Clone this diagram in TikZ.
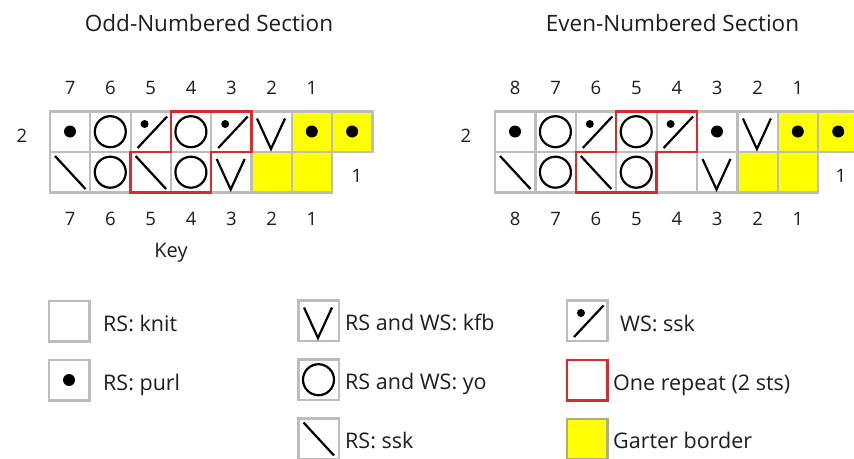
\documentclass[tikz,border=0pt]{standalone}
\usepackage{fontspec}
\setmainfont{Open Sans}
\definecolor{gridgray}{HTML}{BDBDBD}
\definecolor{repred}{HTML}{D92B2B}
\definecolor{garter}{HTML}{FFFF00}
\definecolor{txt}{HTML}{1E1E1E}
\begin{document}
\begin{tikzpicture}[x=1pt,y=-1pt,
  gridcell/.style={draw=gridgray,line width=2.2pt},
  yellowcell/.style={fill=garter},
  repeatline/.style={draw=repred,line width=2.3pt,line join=miter},
  sym/.style={line width=2.2pt,black},
  title/.style={anchor=base,font=\fontsize{22.5}{26}\selectfont,text=txt},
  num/.style={anchor=base,font=\fontsize{18.5}{22}\selectfont,text=txt},
  keytext/.style={anchor=base west,font=\fontsize{21.5}{25}\selectfont,text=txt,inner sep=0pt},
  purlpic/.pic={\fill[black] (20,20) circle[radius=6];},
  yopic/.pic={\draw[sym] (20,20.2) circle[radius=15.5];},
  rssskpic/.pic={\draw[sym] (5,4) -- (35.5,37);},
  kfbpic/.pic={\draw[sym,line join=miter] (5.5,7) -- (19.5,37.5) -- (33.5,7);},
  wssskpic/.pic={\fill[black] (14,12.5) circle[radius=4]; \draw[sym] (7,36.5) -- (36.5,5);},
]
\useasboundingbox (0,0) rectangle (854,458);
\clip (0,0) rectangle (854,458);
\fill[white] (0,0) rectangle (854,458);

% ---------- titles ----------
\node[title] (t1) at (209,31) {Odd-Numbered Section};
\node[title] (t2) at (672.5,31) {Even-Numbered Section};

% ---------- left chart ----------
\def\wL{40.3}
\foreach \i in {6,7} \fill[yellowcell] ({50+\i*\wL},111.5) rectangle +(\wL,40.5);
\foreach \i in {5,6} \fill[yellowcell] ({50+\i*\wL},152) rectangle +(\wL,40.5);
\foreach \i in {0,...,7} \draw[gridcell] ({50+\i*\wL},111.5) rectangle +(\wL,40.5);
\foreach \i in {0,...,6} \draw[gridcell] ({50+\i*\wL},152) rectangle +(\wL,40.5);
% row 2 symbols
\pic at (50,111.5) {purlpic};
\pic at (90.3,111.5) {yopic};
\pic at (130.6,111.5) {wssskpic};
\pic at (170.9,111.5) {yopic};
\pic at (211.2,111.5) {wssskpic};
\pic at (251.5,111.5) {kfbpic};
\pic at (291.8,111.5) {purlpic};
\pic at (332.1,111.5) {purlpic};
% row 1 symbols
\pic at (50,152) {rssskpic};
\pic at (90.3,152) {yopic};
\pic at (130.6,152) {rssskpic};
\pic at (170.9,152) {yopic};
\pic at (211.2,152) {kfbpic};
% repeat outline
\draw[repeatline] (170.9,111.5) -- (251.5,111.5) -- (251.5,152) -- (211.2,152) -- (211.2,192.5) -- (130.6,192.5) -- (130.6,152) -- (170.9,152) -- cycle;
% numbers
\foreach \n [count=\k from 0] in {7,6,5,4,3,2,1} {
  \node[num] (lt\n) at ({70.15+\k*\wL},94) {\n};
  \node[num] (lb\n) at ({70.15+\k*\wL},225) {\n};
}
\node[num] (lr2) at (22,142) {2};
\node[num] (lr1) at (357,182) {1};
\node[num,font=\fontsize{20}{24}\selectfont] (key) at (171,257) {Key};

% ---------- right chart ----------
\def\wR{40.4}
\foreach \i in {7,8} \fill[yellowcell] ({495+\i*\wR},111.5) rectangle +(\wR,40.5);
\foreach \i in {6,7} \fill[yellowcell] ({495+\i*\wR},152) rectangle +(\wR,40.5);
\foreach \i in {0,...,8} \draw[gridcell] ({495+\i*\wR},111.5) rectangle +(\wR,40.5);
\foreach \i in {0,...,7} \draw[gridcell] ({495+\i*\wR},152) rectangle +(\wR,40.5);
% row 2
\pic at (495,111.5) {purlpic};
\pic at (535.4,111.5) {yopic};
\pic at (575.8,111.5) {wssskpic};
\pic at (616.2,111.5) {yopic};
\pic at (656.6,111.5) {wssskpic};
\pic at (697,111.5) {purlpic};
\pic at (737.4,111.5) {kfbpic};
\pic at (777.8,111.5) {purlpic};
\pic at (818.2,111.5) {purlpic};
% row 1
\pic at (495,152) {rssskpic};
\pic at (535.4,152) {yopic};
\pic at (575.8,152) {rssskpic};
\pic at (616.2,152) {yopic};
\pic at (697,152) {kfbpic};
\draw[repeatline] (616.2,111.5) -- (697,111.5) -- (697,152) -- (656.6,152) -- (656.6,192.5) -- (575.8,192.5) -- (575.8,152) -- (616.2,152) -- cycle;
\foreach \n [count=\k from 0] in {8,7,6,5,4,3,2,1} {
  \node[num] (rt\n) at ({515.2+\k*\wR},94) {\n};
  \node[num] (rb\n) at ({515.2+\k*\wR},225) {\n};
}
\node[num] (rr2) at (466,142) {2};
\node[num] (rr1) at (841,182) {1};

% ---------- key ----------
% column 1
\draw[gridcell] (49,301) rectangle (89.5,341.5);
\node[keytext] (k1) at (103,331) {RS: knit};
\draw[gridcell] (49,360) rectangle (89.5,400.5);
\pic at (49,360) {purlpic};
\node[keytext] (k2) at (103,390) {RS: purl};
% column 2
\draw[gridcell] (298.5,300.5) rectangle (339,341);
\pic at (298.5,300.5) {kfbpic};
\node[keytext] (k3) at (345,330) {RS and WS: kfb};
\draw[gridcell] (298.5,359.5) rectangle (339,400);
\pic at (298.5,359.5) {yopic};
\node[keytext] (k4) at (345,389) {RS and WS: yo};
\draw[gridcell] (298.5,418.5) rectangle (339,459);
\pic at (298.5,418.5) {rssskpic};
\node[keytext] (k5) at (345,448) {RS: ssk};
% column 3
\draw[gridcell] (567,300.5) rectangle (607.5,341);
\pic at (567,300.5) {wssskpic};
\node[keytext] (k6) at (620,331) {WS: ssk};
\draw[repeatline] (567,360) rectangle (607.5,400.5);
\node[keytext] (k7) at (613,390) {One repeat (2 sts)};
\fill[garter] (567,419) rectangle (607.5,459.5);
\draw[gridcell,draw=gray!70!yellow] (567,419) rectangle (607.5,459.5);
\node[keytext] (k8) at (613,448) {Garter border};
\end{tikzpicture}
\end{document}
